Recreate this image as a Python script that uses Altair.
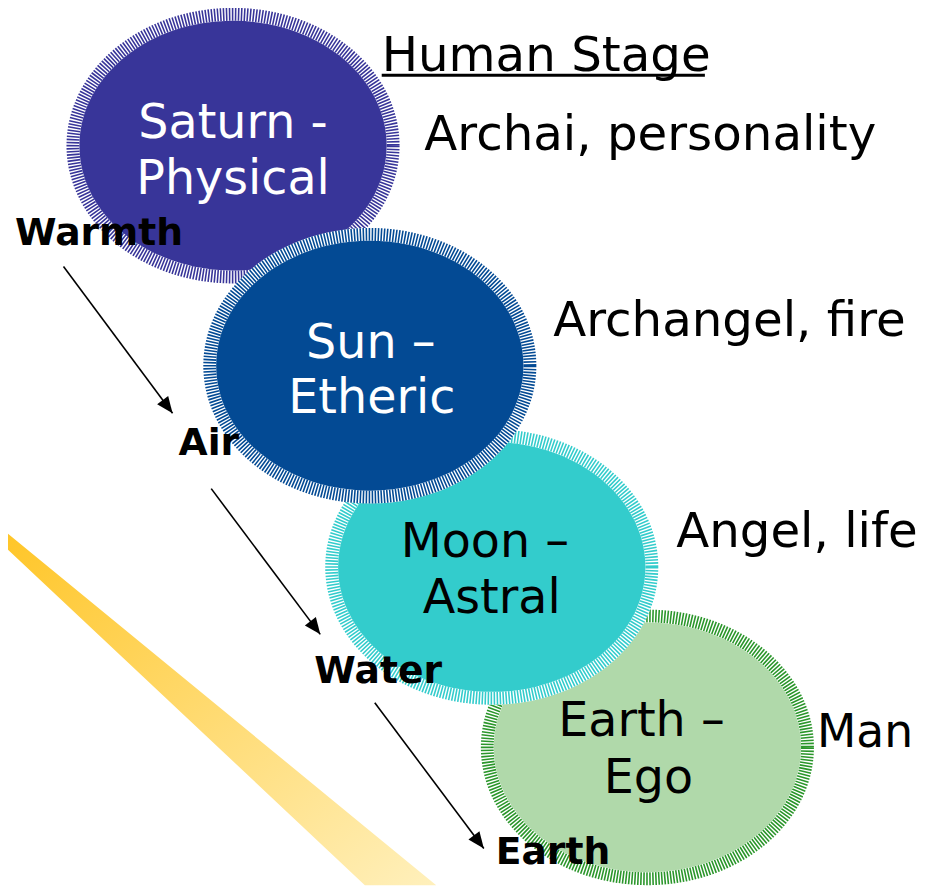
import altair as alt
import pandas as pd

W, H, M = 927, 889, 8

# ---------------- data ----------------
# ellipses (draw order: later ones cover earlier ones)
ell_name = ["Saturn", "Earth", "Moon", "Sun"]
ell_cx = [235, 653, 496, 373]
ell_cy = [143, 750, 568, 365]
ell_fill = ["#383599", "#b0d9aa", "#33CCCC", "#034A94"]
ell_ring = ["#383599", "#2b962b", "#33CCCC", "#034A94"]

# labels inside the ellipses
in_text = ["Saturn -", "Physical", "Sun \u2013", "Etheric", "Moon \u2013", "Astral", "Earth \u2013", "Ego"]
in_x = [235, 235, 374, 375, 489, 496, 647, 654]
in_y = [135, 192, 357, 413, 558, 614, 739, 796]
in_white = [True, True, True, True, False, False, False, False]

# labels to the right
right_text = ["Human Stage", "Archai, personality", "Archangel, fire", "Angel, life"]
right_x = [385, 428, 558, 682]
right_y = [68, 147, 335, 548]
man_text, man_x, man_y = ["Man"], [824], [750]

# bold element labels
el_text = ["Warmth", "Air", "Water", "Earth"]
el_x = [15, 180, 317, 500]
el_y = [243, 455, 685, 868]

# arrows between the elements
arr_x = [64, 213, 378]
arr_y = [265, 489, 705]
arr_x2 = [174, 323, 488]
arr_y2 = [413, 636, 852]

# underline of "Human Stage"
ul_x, ul_x2, ul_y = [385], [711], [72]

# yellow light beam
beam_x = [0, 368, 440]
beam_top = [528, 830, 889]
beam_bot = [543, 889, 889]

# ---------------- helpers ----------------
xs = alt.Scale(domain=[M, W], range=[0, W - M], nice=False, zero=False)
ys = alt.Scale(domain=[M, H], range=[0, H - M], nice=False, zero=False)


def X(f):
    return alt.X(f, type="quantitative", scale=xs, axis=None)


def Y(f):
    return alt.Y(f, type="quantitative", scale=ys, axis=None)


def ellipse_path(e):
    k = 0.5523
    return (f"M 1 0 C 1 {k*e:.4f} {k:.4f} {e:.4f} 0 {e:.4f} "
            f"C {-k:.4f} {e:.4f} -1 {k*e:.4f} -1 0 "
            f"C -1 {-k*e:.4f} {-k:.4f} {-e:.4f} 0 {-e:.4f} "
            f"C {k:.4f} {-e:.4f} 1 {-k*e:.4f} 1 0 Z")


RX, RY, RING = 168, 139, 13

df_ell = pd.DataFrame({"name": ell_name, "x": ell_cx, "y": ell_cy})

layers = []

# beam
df_beam = pd.DataFrame({"x": beam_x, "y": beam_top, "y2": beam_bot})
beam = alt.Chart(df_beam).mark_area(
    color=alt.LinearGradient(
        gradient="linear",
        stops=[alt.GradientStop(color="#FFC526", offset=0),
               alt.GradientStop(color="#FFF0BC", offset=1)],
        x1=0, x2=1, y1=0, y2=1),
    interpolate="linear",
).encode(x=X("x"), y=Y("y"), y2=alt.Y2("y2"))
layers.append(beam)

for n, fc, rc in zip(ell_name, ell_fill, ell_ring):
    base = alt.Chart(df_ell).transform_filter(alt.datum.name == n).encode(x=X("x"), y=Y("y"))
    outer = base.mark_point(shape=ellipse_path(RY / RX), size=(2 * RX) ** 2,
                            filled=True, color="white", opacity=1, strokeWidth=0)
    rr, ry = RX - RING / 2, RY - RING / 2
    ring = base.mark_point(shape=ellipse_path(ry / rr), size=(2 * rr) ** 2,
                           filled=False, color=rc, opacity=1, strokeWidth=RING,
                           strokeDash=[1.6, 1.4])
    ir, iy = RX - RING, RY - RING
    inner = base.mark_point(shape=ellipse_path(iy / ir), size=(2 * ir) ** 2,
                            filled=True, color=fc, opacity=1, strokeWidth=0)
    layers += [outer, ring, inner]

# inside labels
df_in = pd.DataFrame({"t": in_text, "x": in_x, "y": in_y, "w": in_white})
for white in [True, False]:
    layers.append(
        alt.Chart(df_in).transform_filter(alt.datum.w == white).mark_text(
            font="DejaVu Sans", fontSize=48, align="center", baseline="alphabetic",
            color="white" if white else "black",
        ).encode(x=X("x"), y=Y("y"), text="t:N")
    )

# right labels
df_right = pd.DataFrame({"t": right_text, "x": right_x, "y": right_y})
layers.append(
    alt.Chart(df_right).mark_text(
        font="DejaVu Sans", fontSize=48.7, align="left", baseline="alphabetic", color="black"
    ).encode(x=X("x"), y=Y("y"), text="t:N")
)
df_man = pd.DataFrame({"t": man_text, "x": man_x, "y": man_y})
layers.append(
    alt.Chart(df_man).mark_text(
        font="DejaVu Sans", fontSize=46, align="left", baseline="alphabetic", color="black"
    ).encode(x=X("x"), y=Y("y"), text="t:N")
)
df_ul = pd.DataFrame({"x": ul_x, "x2": ul_x2, "y": ul_y})
layers.append(
    alt.Chart(df_ul).mark_rule(color="black", strokeWidth=3).encode(
        x=X("x"), x2=alt.X2("x2"), y=Y("y"))
)

# arrows
df_arr = pd.DataFrame({"x": arr_x, "y": arr_y, "x2": arr_x2, "y2": arr_y2})
layers.append(
    alt.Chart(df_arr).mark_rule(color="black", strokeWidth=1.6).encode(
        x=X("x"), y=Y("y"), x2=alt.X2("x2"), y2=alt.Y2("y2"))
)
layers.append(
    alt.Chart(df_arr).mark_point(
        shape="M 0 0 L 0.42 1 L -0.42 1 Z", filled=True, color="black",
        opacity=1, size=1100, angle=143, strokeWidth=0,
    ).encode(x=X("x2"), y=Y("y2"))
)

# bold element labels
df_el = pd.DataFrame({"t": el_text, "x": el_x, "y": el_y})
layers.append(
    alt.Chart(df_el).mark_text(
        font="DejaVu Sans", fontSize=38, fontWeight="bold", align="left",
        baseline="alphabetic", color="black",
    ).encode(x=X("x"), y=Y("y"), text="t:N")
)

chart = alt.layer(*layers).properties(
    width=W - M, height=H - M, padding=0,
    autosize=alt.AutoSizeParams(type="none"),
    background="white",
).configure_view(stroke=None)

chart.save("out.html", embed_options={"renderer": "svg", "actions": False})
